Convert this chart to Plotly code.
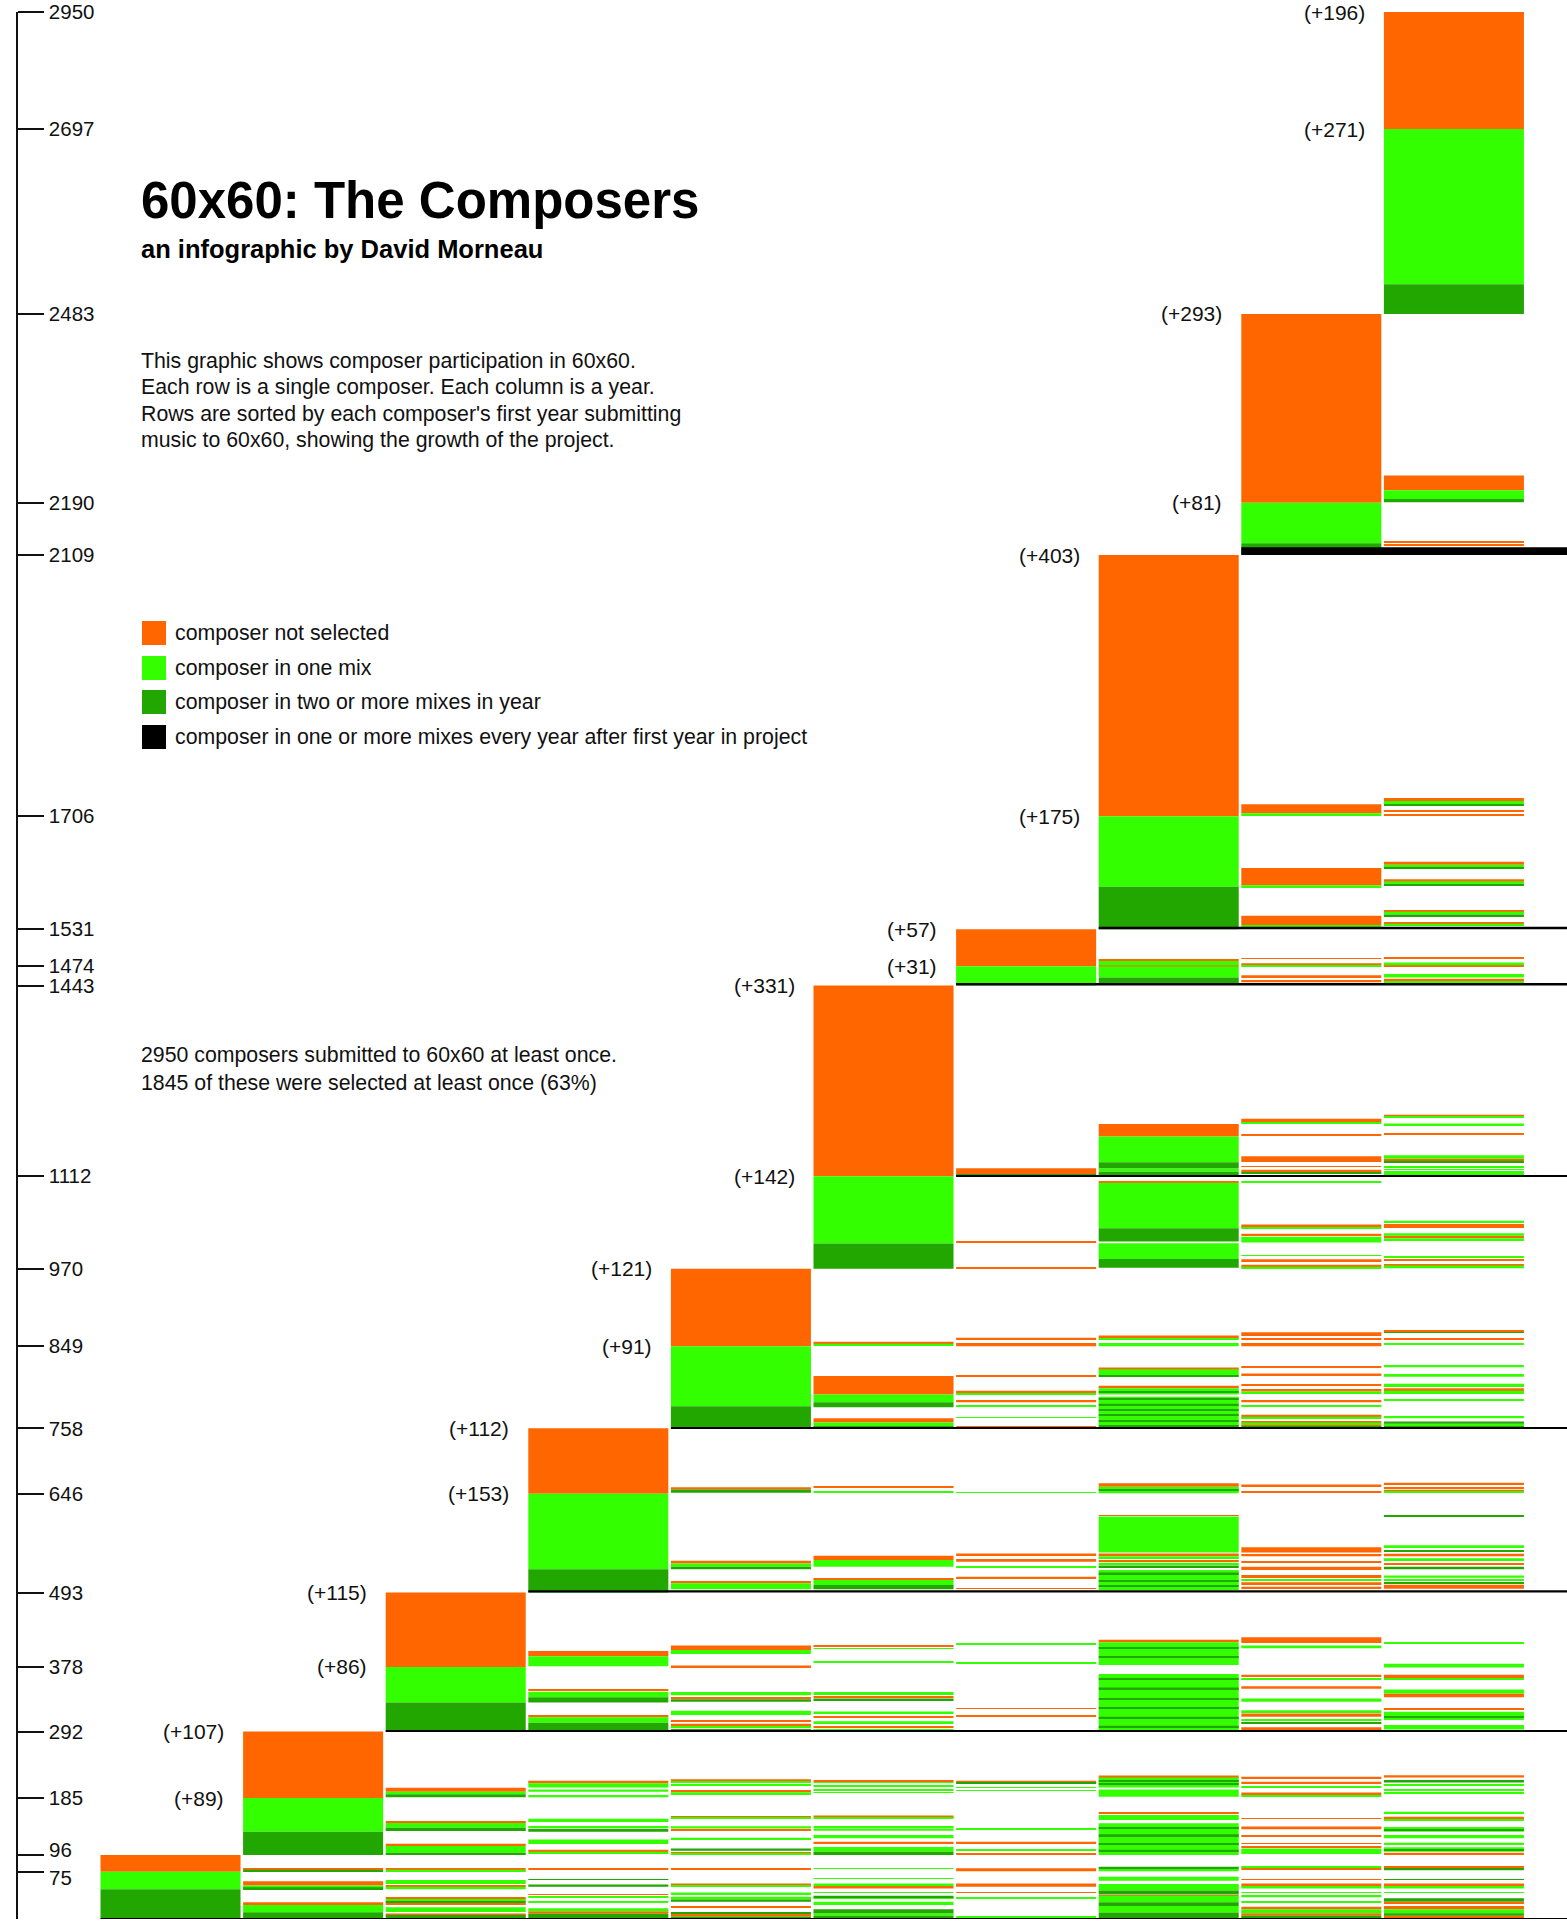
import plotly.graph_objects as go

# ---------------------------------------------------------------- data
# composers (rows) who joined in each year, split by how they fared that year
new_multi = [46, 36, 45, 36, 34, 39, 0, 66, 18, 46]      # in two or more mixes
new_one = [27, 52, 55, 117, 93, 104, 30, 109, 63, 240]   # in one mix
new_not = [26, 103, 115, 101, 120, 295, 57, 404, 292, 181]  # not selected

# printed labels
label_new_not = ["", "(+107)", "(+115)", "(+112)", "(+121)", "(+331)", "(+57)", "(+403)", "(+293)", "(+196)"]
label_new_sel = ["", "(+89)", "(+86)", "(+153)", "(+91)", "(+142)", "(+31)", "(+175)", "(+81)", "(+271)"]
tick_top_text = ["96", "292", "493", "758", "970", "1443", "1531", "2109", "2483", "2950"]
tick_mid_text = ["75", "185", "378", "646", "849", "1112", "1474", "1706", "2190", "2697"]

# returning composers in later years: (year column, first row, last row, status)
# N = not selected, S = in one mix, M = in two or more mixes
returns_1 = [
    (1, 76, 78, "N"), (1, 74, 76, "M"), (1, 52, 58.5, "N"), (1, 49, 52, "S"), (1, 46, 49, "M"),
    (1, 21.5, 26, "N"), (1, 10.5, 21.5, "S"), (1, 1, 10.5, "M"),
    (2, 76, 79, "N"), (2, 73.5, 76, "S"), (2, 57.5, 60, "S"), (2, 55.5, 56.5, "S"), (2, 50, 52.5, "N"),
    (2, 46, 50, "S"), (2, 31, 34, "N"), (2, 28, 31, "S"), (2, 25, 28, "M"), (2, 23, 25, "N"),
    (2, 11, 18, "S"), (2, 6, 8.5, "N"), (2, 1, 6, "M"),
    (3, 76, 78, "N"), (3, 60.5, 61.5, "M"), (3, 50, 53.5, "M"), (3, 37.5, 38.5, "N"), (3, 33.5, 34.5, "S"),
    (3, 25.5, 28, "S"), (3, 12, 16.5, "S"), (3, 8, 12, "N"), (3, 1, 8, "M"),
    (4, 76, 78.5, "N"), (4, 52, 55, "N"), (4, 50, 52, "S"), (4, 38.5, 41, "S"), (4, 30, 34.5, "S"),
    (4, 26.5, 30, "M"), (4, 18.5, 19.5, "N"), (4, 8, 11, "M"), (4, 4, 8, "N"), (4, 1, 4, "M"),
    (5, 77.5, 78.5, "S"), (5, 62, 63, "S"), (5, 51, 55, "S"), (5, 47, 51, "N"), (5, 40.5, 41.5, "S"),
    (5, 33, 36, "M"), (5, 31, 33, "S"), (5, 21.5, 26.5, "S"), (5, 9, 15, "M"), (5, 5, 9, "S"), (5, 1, 5, "M"),
    (6, 74, 78.5, "N"), (6, 50, 55, "N"), (6, 40.5, 41.5, "N"), (6, 31.5, 32.5, "S"), (6, 3, 4, "S"),
    (7, 78, 81, "M"), (7, 74, 78, "S"), (7, 59, 65.5, "S"), (7, 44, 54, "S"), (7, 38, 44, "M"),
    (7, 36, 37, "N"), (7, 26, 36, "S"), (7, 20, 26, "M"), (7, 10, 20, "S"), (7, 1, 10, "M"),
    (8, 79.5, 80.5, "S"), (8, 76.5, 77.5, "N"), (8, 60.5, 61.5, "N"), (8, 51, 55, "N"), (8, 47, 51, "S"),
    (8, 40.5, 41.5, "S"), (8, 33.5, 37, "S"), (8, 26, 27, "S"), (8, 15, 19, "N"), (8, 9, 15, "S"),
    (8, 5, 9, "N"), (8, 1, 5, "M"),
    (9, 79, 82, "N"), (9, 75.5, 79, "M"), (9, 60.5, 61.5, "M"), (9, 51, 55, "N"), (9, 47, 51, "S"),
    (9, 40.5, 41.5, "S"), (9, 27, 32, "M"), (9, 24, 27, "N"), (9, 15, 20, "N"), (9, 9, 15, "S"),
    (9, 5, 9, "M"), (9, 1, 5, "N"),
]
returns_2 = [
    (2, 197, 203, "N"), (2, 193, 197, "S"), (2, 188.5, 193, "M"), (2, 148.5, 151.5, "N"), (2, 141, 148.5, "S"),
    (2, 136, 141, "M"), (2, 113, 116.5, "N"), (2, 102.5, 113, "S"), (2, 99, 102.5, "M"),
    (3, 210, 214, "N"), (3, 203.5, 210, "S"), (3, 197, 200.5, "S"), (3, 188.5, 192, "S"), (3, 150, 155, "S"),
    (3, 142, 143, "S"), (3, 135, 139.5, "M"), (3, 116, 123, "S"), (3, 104, 107, "N"), (3, 100.5, 104, "S"),
    (4, 213, 216, "N"), (4, 211, 212, "S"), (4, 206.5, 207.5, "S"), (4, 196, 199.5, "N"), (4, 193, 196, "S"),
    (4, 157, 159, "N"), (4, 155, 157, "S"), (4, 140, 143.5, "S"), (4, 137, 138, "N"), (4, 123, 125.5, "S"),
    (4, 105.5, 109, "M"), (4, 101, 102.5, "N"), (4, 99, 101, "S"),
    (5, 213, 215, "N"), (5, 210.5, 211.5, "S"), (5, 205, 206, "S"), (5, 199, 200, "S"), (5, 195, 196, "S"),
    (5, 157.5, 160, "N"), (5, 155, 157.5, "S"), (5, 142, 143, "S"), (5, 136.5, 140, "S"), (5, 125, 130, "S"),
    (5, 117, 119.5, "N"), (5, 104, 111.5, "S"), (5, 99, 104, "M"),
    (6, 211, 214, "N"), (6, 209.5, 211, "M"), (6, 203, 204, "S"), (6, 198, 199, "S"), (6, 138.5, 139.5, "S"),
    (6, 116, 119.5, "N"), (6, 105.5, 108, "S"), (6, 100, 101, "N"),
    (7, 219, 222, "N"), (7, 203.5, 219, "S"), (7, 208, 210, "M"), (7, 213, 214, "M"), (7, 189, 200.5, "S"),
    (7, 163, 165.5, "N"), (7, 153, 161, "S"), (7, 99, 148, "S"), (7, 140, 142, "M"), (7, 128, 131, "M"),
    (7, 115, 117, "M"), (7, 104, 107, "M"),
    (8, 216.5, 220, "N"), (8, 210, 212.5, "N"), (8, 204, 205.5, "S"), (8, 192, 195.5, "N"), (8, 189, 192, "S"),
    (8, 155, 156, "N"), (8, 139, 143, "N"), (8, 128, 129, "N"), (8, 116.5, 117.5, "N"), (8, 111, 112, "N"),
    (8, 100.5, 109, "S"),
    (9, 219, 222.5, "N"), (9, 211, 215, "M"), (9, 206.5, 207.5, "S"), (9, 199, 200, "S"), (9, 194, 195, "S"),
    (9, 163.5, 166, "S"), (9, 155.5, 158, "N"), (9, 152.5, 153.5, "S"), (9, 135, 142.5, "S"), (9, 137, 139, "M"),
    (9, 125, 130, "S"), (9, 116, 118, "S"), (9, 104, 111, "S"), (9, 106, 108, "M"), (9, 99, 102.5, "N"),
]
returns_3 = [
    (3, 406.5, 414.5, "N"), (3, 391, 406.5, "S"), (3, 353.5, 354.5, "N"), (3, 343, 351.5, "S"), (3, 335, 343, "M"),
    (3, 312, 315.5, "N"), (3, 303.5, 312, "S"), (3, 291.5, 303.5, "M"),
    (4, 416, 423, "N"), (4, 410, 416, "S"), (4, 389, 392, "N"), (4, 346, 351, "S"), (4, 341, 343, "N"),
    (4, 336, 340, "M"), (4, 315.5, 322, "S"), (4, 306, 308, "N"), (4, 300, 302, "N"), (4, 296, 298, "S"),
    (4, 291.5, 294, "M"),
    (5, 421, 423, "N"), (5, 418, 419, "S"), (5, 397.5, 399, "S"), (5, 348, 351, "S"), (5, 343, 345, "N"),
    (5, 338, 341, "M"), (5, 318, 321, "S"), (5, 311, 313, "N"), (5, 303, 306, "S"), (5, 296, 298, "N"),
    (5, 291.5, 294, "S"),
    (6, 425, 426, "S"), (6, 395.5, 396.5, "S"), (6, 325, 326, "N"), (6, 313, 315, "N"),
    (7, 428, 432, "N"), (7, 393, 428, "S"), (7, 418, 420, "M"), (7, 405, 407, "M"), (7, 291.5, 379, "S"),
    (7, 370, 372, "M"), (7, 355, 358, "M"), (7, 340, 342, "M"), (7, 325, 328, "M"), (7, 310, 313, "M"),
    (7, 296, 299, "M"),
    (8, 427, 436, "N"), (8, 419, 423, "S"), (8, 375, 378, "N"), (8, 370, 372, "S"), (8, 356, 360, "N"),
    (8, 336, 341, "S"), (8, 320, 323, "S"), (8, 313, 318, "N"), (8, 307, 309, "S"), (8, 303, 304, "M"),
    (8, 292, 296.5, "N"),
    (9, 426, 427, "S"), (9, 389, 395, "S"), (9, 373, 378, "N"), (9, 370, 373, "S"), (9, 349, 355, "S"),
    (9, 343, 349, "N"), (9, 323.5, 325, "N"), (9, 314, 320.5, "S"), (9, 312, 314, "M"), (9, 308.5, 309.5, "S"),
    (9, 293, 300, "S"),
]
returns_4 = [
    (4, 664.5, 668, "N"), (4, 659.5, 664.5, "M"), (4, 550, 554, "N"), (4, 545, 550, "S"), (4, 541, 545, "M"),
    (4, 519.5, 523, "N"), (4, 510, 519.5, "S"),
    (5, 667, 670, "N"), (5, 660.5, 661.5, "S"), (5, 555.5, 562, "N"), (5, 545, 555.5, "S"), (5, 524.5, 527, "N"),
    (5, 516.5, 524.5, "S"), (5, 510, 516.5, "M"),
    (6, 659.5, 660.5, "S"), (6, 561.5, 565.5, "N"), (6, 552.5, 557, "N"), (6, 543.5, 546, "S"), (6, 527, 529.5, "N"),
    (6, 510.5, 511.5, "N"),
    (7, 668.5, 674, "N"), (7, 658.5, 668.5, "S"), (7, 663, 665, "M"), (7, 623.5, 624.5, "N"), (7, 567, 622.5, "S"),
    (7, 563, 565.5, "N"), (7, 557, 561, "S"), (7, 553, 555, "N"), (7, 548, 551, "S"), (7, 544, 547, "M"),
    (7, 509, 540, "S"), (7, 533, 536, "M"), (7, 522, 524, "M"), (7, 514, 516, "M"),
    (8, 669, 672, "N"), (8, 659.5, 661, "N"), (8, 567, 575, "N"), (8, 561, 564.5, "N"), (8, 551, 553, "N"),
    (8, 540, 545, "N"), (8, 529, 532, "N"), (8, 524, 526, "S"), (8, 518, 521, "N"), (8, 511, 514, "N"),
    (9, 672, 675, "N"), (9, 666, 668, "N"), (9, 662, 664, "N"), (9, 659.5, 661, "S"), (9, 622.5, 623.5, "M"),
    (9, 574, 578, "S"), (9, 569, 571, "M"), (9, 561, 565, "N"), (9, 555, 558, "S"), (9, 548, 550, "N"),
    (9, 541, 545, "M"), (9, 528, 531.5, "S"), (9, 524, 526, "S"), (9, 519, 521, "M"), (9, 511, 517, "N"),
]
returns_5 = [
    (5, 890, 893, "N"), (5, 887, 890, "S"), (5, 811.5, 840, "N"), (5, 799.5, 811.5, "S"), (5, 791.5, 799.5, "M"),
    (5, 768, 774.5, "N"), (5, 762, 768, "S"), (5, 760, 762, "M"),
    (6, 897, 899, "N"), (6, 886, 891, "N"), (6, 839.5, 840.5, "N"), (6, 813.5, 817, "N"), (6, 811.5, 812.5, "S"),
    (6, 799.5, 803, "N"), (6, 793.5, 794.5, "S"), (6, 775.5, 776.5, "S"), (6, 761.5, 762.5, "N"),
    (7, 898, 902.5, "N"), (7, 896, 898, "S"), (7, 886, 891, "S"), (7, 850.5, 853, "N"), (7, 840.5, 850.5, "S"),
    (7, 839, 840.5, "M"), (7, 821, 825, "N"), (7, 811.5, 821, "S"), (7, 814, 816, "M"), (7, 760, 808, "S"),
    (7, 803, 805, "M"), (7, 795, 797, "M"), (7, 787, 789, "M"), (7, 779, 781, "M"), (7, 770, 772, "M"),
    (7, 762, 764, "M"),
    (8, 902, 907.5, "N"), (8, 897, 898, "N"), (8, 886, 891, "N"), (8, 853.5, 854.5, "N"), (8, 841, 844, "N"),
    (8, 825.5, 826.5, "N"), (8, 816, 820, "N"), (8, 813.5, 816, "S"), (8, 799.5, 803, "N"), (8, 793.5, 794.5, "S"),
    (8, 777, 780, "N"), (8, 774.5, 777, "S"), (8, 768, 770, "N"), (8, 765.5, 768, "S"), (8, 762, 764, "N"),
    (8, 760, 762, "M"),
    (9, 908, 911, "N"), (9, 906.5, 908, "M"), (9, 897, 898, "N"), (9, 888, 891, "S"), (9, 853.5, 857, "S"),
    (9, 839, 843, "S"), (9, 823, 828, "S"), (9, 818, 821, "N"), (9, 812, 817, "S"), (9, 802.5, 803.5, "S"),
    (9, 774.5, 778, "S"), (9, 766, 769.5, "M"), (9, 762, 766, "S"), (9, 760, 762, "M"),
]
returns_6 = [
    (6, 1152.5, 1161.5, "N"), (6, 1150, 1152.5, "M"), (6, 1046.5, 1047.5, "N"), (6, 1006.5, 1007.5, "N"),
    (7, 1210.5, 1230, "N"), (7, 1170.5, 1210.5, "S"), (7, 1161.5, 1170.5, "M"), (7, 1156, 1161.5, "S"),
    (7, 1150.5, 1156, "M"), (7, 1140, 1141, "N"), (7, 1068.5, 1139, "S"), (7, 1048, 1068.5, "M"),
    (7, 1021, 1045.5, "S"), (7, 1007.5, 1021, "M"),
    (8, 1232, 1238, "N"), (8, 1230.5, 1232, "S"), (8, 1212, 1214, "N"), (8, 1171, 1180, "N"), (8, 1163.5, 1164.5, "N"),
    (8, 1155, 1159, "N"), (8, 1152.5, 1155, "M"), (8, 1140, 1141, "S"), (8, 1069, 1074.5, "N"), (8, 1067.5, 1069, "S"),
    (8, 1058, 1060, "N"), (8, 1046.5, 1055.5, "S"), (8, 1026, 1027, "S"), (8, 1017.5, 1020.5, "N"),
    (8, 1009, 1012, "N"), (8, 1006.5, 1009, "S"),
    (9, 1242, 1244, "N"), (9, 1240, 1242, "S"), (9, 1227.5, 1230.5, "S"), (9, 1213, 1216, "N"), (9, 1176, 1181.5, "S"),
    (9, 1173, 1176, "N"), (9, 1170, 1173, "M"), (9, 1163, 1164, "S"), (9, 1159, 1160, "S"), (9, 1155, 1156, "S"),
    (9, 1151.5, 1152.5, "S"), (9, 1077, 1080, "S"), (9, 1073, 1075, "N"), (9, 1069, 1071, "N"), (9, 1057, 1061, "S"),
    (9, 1055, 1057, "N"), (9, 1050, 1053, "S"), (9, 1024, 1025, "S"), (9, 1018, 1020.5, "N"), (9, 1011, 1013, "N"),
    (9, 1006.5, 1011, "S"),
]
returns_7 = [
    (7, 1482, 1485, "N"), (7, 1475, 1482, "S"), (7, 1473.5, 1475, "N"), (7, 1456.5, 1473.5, "S"), (7, 1448, 1456.5, "M"),
    (8, 1485.5, 1486.5, "N"), (8, 1475, 1478.5, "N"), (8, 1473.5, 1475, "S"), (8, 1457, 1460, "N"), (8, 1449, 1452.5, "N"),
    (9, 1485.5, 1487, "N"), (9, 1475.5, 1479.5, "S"), (9, 1474, 1475.5, "N"), (9, 1456.5, 1462, "S"),
    (9, 1452.5, 1454.5, "N"), (9, 1448, 1450.5, "S"),
]
returns_8 = [
    (8, 1710.5, 1724.5, "N"), (8, 1707.5, 1710.5, "S"), (8, 1599, 1626, "N"), (8, 1596, 1599, "S"),
    (8, 1537.5, 1552, "N"), (8, 1535, 1537.5, "S"),
    (9, 1729.5, 1734, "N"), (9, 1725, 1729.5, "S"), (9, 1723, 1725, "M"), (9, 1713, 1714.5, "N"), (9, 1706.5, 1708.5, "N"),
    (9, 1631, 1635.5, "N"), (9, 1627, 1631, "S"), (9, 1625.5, 1627, "M"), (9, 1605.5, 1608.5, "N"),
    (9, 1601.5, 1605.5, "S"), (9, 1599, 1601.5, "M"), (9, 1558, 1560.5, "N"), (9, 1554, 1558, "S"),
    (9, 1551.5, 1554, "M"), (9, 1539.5, 1541.5, "N"), (9, 1537, 1539.5, "S"),
]
returns_9 = [
    (9, 2210, 2233, "N"), (9, 2196.5, 2210, "S"), (9, 2191.5, 2196.5, "M"), (9, 2130, 2131, "N"), (9, 2125, 2126, "N"),
]

# composers in a mix every year after their first: (first column, first row, last row)
every_year = [(0, 0, 1), (2, 290, 291.5), (3, 505, 508.5), (4, 759, 760.5),
              (6, 1148, 1149.5), (6, 1444, 1448), (7, 1531, 1535), (8, 2110, 2122)]

legend_labels = ["composer not selected", "composer in one mix",
                 "composer in two or more mixes in year",
                 "composer in one or more mixes every year after first year in project"]
intro_lines = ["This graphic shows composer participation in 60x60.",
               "Each row is a single composer. Each column is a year.",
               "Rows are sorted by each composer's first year submitting",
               "music to 60x60, showing the growth of the project."]
summary_lines = ["2950 composers submitted to 60x60 at least once.",
                 "1845 of these were selected at least once (63%)"]

# ---------------------------------------------------------------- styling
COLORS = {"N": "#FF6600", "S": "#33FF00", "M": "#22A600", "B": "#000000"}
FONT = "Liberation Sans, Arial, Helvetica, sans-serif"
FIG_W, FIG_H = 1567, 1923
M_L, M_R, M_T, M_B = 17, 0, 12, 4
PLOT_W = FIG_W - M_L - M_R
PLOT_H = FIG_H - M_T - M_B
COL_X0, COL_PITCH = 100.5, 142.6  # px of first column, column pitch
BAR_W = 0.982


def px_x(px):
    """figure pixel x -> paper fraction"""
    return (px - M_L) / PLOT_W


def px_y(py):
    """figure pixel y -> paper fraction"""
    return (FIG_H - M_B - py) / PLOT_H


# ---------------------------------------------------------------- build
n_years = len(new_not)
starts, ends, mids = [], [], []
acc = 0
for c in range(n_years):
    starts.append(acc)
    mids.append(acc + new_multi[c] + new_one[c])
    acc += new_multi[c] + new_one[c] + new_not[c]
    ends.append(acc)

bars = {k: {"x": [], "base": [], "h": []} for k in "NSM"}


def add(status, col, lo, hi):
    bars[status]["x"].append(col)
    bars[status]["base"].append(lo)
    bars[status]["h"].append(hi - lo)


for c in range(n_years):
    add("M", c, starts[c], starts[c] + new_multi[c])
    add("S", c, starts[c] + new_multi[c], mids[c])
    add("N", c, mids[c], ends[c])

for lst in [returns_1, returns_2, returns_3, returns_4, returns_5,
            returns_6, returns_7, returns_8, returns_9]:
    for col, lo, hi, st in lst:
        add(st, col, lo, hi)

fig = go.Figure()
for st in "NSM":
    fig.add_trace(go.Bar(
        x=bars[st]["x"], y=bars[st]["h"], base=bars[st]["base"],
        width=BAR_W, offset=0,
        marker=dict(color=COLORS[st], line=dict(width=0)),
        hoverinfo="skip", showlegend=False))

fig.add_trace(go.Bar(
    x=[b[0] for b in every_year], y=[b[2] - b[1] for b in every_year],
    base=[b[1] for b in every_year],
    width=[n_years + 1 - b[0] for b in every_year], offset=0,
    marker=dict(color=COLORS["B"], line=dict(width=0)),
    hoverinfo="skip", showlegend=False))

# empty traces that carry the two nudged tick labels at the bottom
fig.add_trace(go.Scatter(x=[], y=[], yaxis="y2", showlegend=False, hoverinfo="skip"))
fig.add_trace(go.Scatter(x=[], y=[], yaxis="y3", showlegend=False, hoverinfo="skip"))

# y-axis ticks at every cohort boundary
tickvals = ends + mids
ticktext = [""] + tick_top_text[1:] + [""] + tick_mid_text[1:]

TICKFONT = dict(family=FONT, size=20.5, color="#111")
axis_common = dict(range=[0, 2950], anchor="free", position=0, side="right",
                   ticks="outside", ticklen=26, tickwidth=1.5,
                   showgrid=False, zeroline=False, fixedrange=True,
                   ticklabelstandoff=1, ticklabeloverflow="allow", tickfont=TICKFONT)

annotations = []
for c in range(n_years):
    if label_new_not[c]:
        annotations.append(dict(x=c, y=ends[c], xref="x", yref="y", text=label_new_not[c],
                                xanchor="right", yanchor="middle", xshift=-17, showarrow=False,
                                font=dict(family=FONT, size=21, color="#111")))
    if label_new_sel[c]:
        annotations.append(dict(x=c, y=mids[c], xref="x", yref="y", text=label_new_sel[c],
                                xanchor="right", yanchor="middle", xshift=-17, showarrow=False,
                                font=dict(family=FONT, size=21, color="#111")))

# title block
annotations.append(dict(x=px_x(139), y=px_y(200), xref="paper", yref="paper",
                        text="<b>60x60: The Composers</b>", xanchor="left", yanchor="middle",
                        showarrow=False, font=dict(family=FONT, size=51, color="#000")))
annotations.append(dict(x=px_x(139), y=px_y(249), xref="paper", yref="paper",
                        text="<b>an infographic by David Morneau</b>", xanchor="left", yanchor="middle",
                        showarrow=False, font=dict(family=FONT, size=25.5, color="#000")))
for i, line in enumerate(intro_lines):
    annotations.append(dict(x=px_x(139), y=px_y(360.5 + 26.6 * i), xref="paper", yref="paper",
                            text=line, xanchor="left", yanchor="middle", showarrow=False,
                            font=dict(family=FONT, size=21.3, color="#111")))
for i, line in enumerate(summary_lines):
    annotations.append(dict(x=px_x(139), y=px_y(1054.5 + 28 * i), xref="paper", yref="paper",
                            text=line, xanchor="left", yanchor="middle", showarrow=False,
                            font=dict(family=FONT, size=21.3, color="#111")))

# legend
shapes = []
legend_rows = [633, 668, 702, 737]
for key, label, yc in zip(["N", "S", "M", "B"], legend_labels, legend_rows):
    shapes.append(dict(type="rect", xref="paper", yref="paper",
                       x0=px_x(142), x1=px_x(166), y0=px_y(yc + 12), y1=px_y(yc - 12),
                       fillcolor=COLORS[key], line=dict(width=0)))
    annotations.append(dict(x=px_x(173), y=px_y(yc), xref="paper", yref="paper", text=label,
                            xanchor="left", yanchor="middle", showarrow=False,
                            font=dict(family=FONT, size=21.3, color="#111")))

x_lo = -(COL_X0 - M_L) / COL_PITCH
fig.update_layout(
    width=FIG_W, height=FIG_H,
    margin=dict(l=M_L, r=M_R, t=M_T, b=M_B, autoexpand=False),
    paper_bgcolor="white", plot_bgcolor="white",
    barmode="overlay", showlegend=False, hovermode=False,
    xaxis=dict(range=[x_lo, x_lo + PLOT_W / COL_PITCH], visible=False, fixedrange=True),
    yaxis=dict(**axis_common, tickvals=tickvals, ticktext=ticktext, tickcolor="#111",
               showline=True, linewidth=1.5, linecolor="#111"),
    yaxis2=dict(**axis_common, overlaying="y", tickvals=[ends[0]], ticktext=[tick_top_text[0]],
                tickcolor="rgba(0,0,0,0)", showline=False, ticklabelshift=-5),
    yaxis3=dict(**axis_common, overlaying="y", tickvals=[mids[0]], ticktext=[tick_mid_text[0]],
                tickcolor="rgba(0,0,0,0)", showline=False, ticklabelshift=6),
    annotations=annotations, shapes=shapes,
)

# the page's default 8px body margin would push the figure off its frame
fig.write_html("out.html", config={"displayModeBar": False, "staticPlot": False},
               post_script="document.body.style.margin='0px';")
